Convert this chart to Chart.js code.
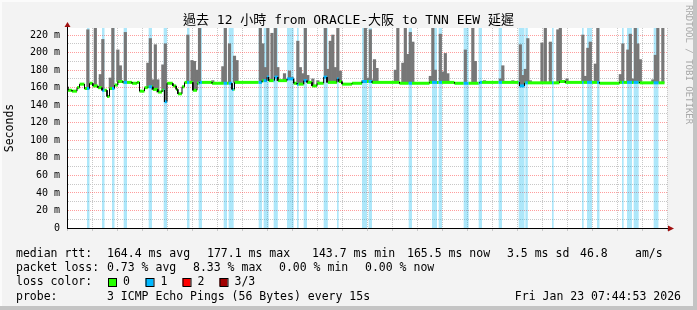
<!DOCTYPE html>
<html>
<head>
<meta charset="utf-8">
<script src="https://cdn.jsdelivr.net/npm/chart.js"></script>
<style>
  html, body { margin: 0; padding: 0; background: #f3f3f3; }
  #wrap { width: 697px; height: 310px; }
</style>
</head>
<body>
<div id="wrap"><canvas id="pingChart" width="697" height="310"></canvas></div>
<script>
// -------------------------------
// 1) DATA (read off the smokeping graph)
// -------------------------------

// median rtt, stepped: value holds from its time until the next one (ms)
const medianTimes = ["19:46","19:47","19:52","19:58","20:01","20:07","20:13","20:17","20:23","20:28",
  "20:34","20:37","20:43","20:47","20:53","21:04","21:10","21:13","21:19","21:23",
  "21:29","21:35","21:40","21:43","21:46","21:53","21:57","21:59","22:04","22:07",
  "22:17","22:22","22:25","22:40","23:04","23:07","23:40","23:46","23:48","23:55",
  "23:59","00:10","00:18","00:22","00:30","00:34","00:40","00:46","00:54","00:58",
  "01:10","01:12","01:16","01:28","01:40","01:52","02:25","03:01","03:31","04:01",
  "04:49","04:55","05:37","05:44","06:25","06:49","07:13","07:43"];
const medianMs = [161,157,156,160,164,159,165,162,160,157,
  150,159,163,167,166,165,166,156,160,161,
  158,155,157,144,165,162,158,153,161,166,
  157,165,166,165,158,166,168,172,168,172,
  168,170,165,164,168,166,162,165,172,166,
  170,167,164,165,167,166,165,166,165,166,
  162,165.5,167,166,165,166,165.5,165.5];

// packet loss 1/3 periods
const lossStart = ["20:10","20:28","20:40","20:54","21:24","21:42","22:10","22:24","22:54","23:00",
  "23:36","23:42","23:54","00:10","00:22","00:30","00:54","01:10","01:40","01:48",
  "02:36","03:04","03:12","03:42","04:00","04:24","04:48","04:56","05:28","06:04",
  "06:10","06:22","06:52","06:58","07:06","07:30"];
const lossEnd = ["20:13","20:31","20:43","20:58","21:28","21:46","22:13","22:28","22:58","23:06",
  "23:40","23:48","23:59","00:18","00:24","00:34","00:59","01:12","01:46","01:52",
  "02:40","03:10","03:16","03:48","04:04","04:28","04:55","04:59","05:30","06:06",
  "06:16","06:25","06:54","07:04","07:12","07:36"];

// smoke: highest ping of each noisy step (ms); values above 228 are clipped off the top
const smokeTimes = ["20:11","20:20","20:26","20:29","20:38","20:41","20:47","20:50","20:56","21:23",
  "21:26","21:29","21:32","21:35","21:41","21:44","22:11","22:16","22:19","22:22",
  "22:25","22:41","22:53","22:56","23:01","23:07","23:10","23:38","23:41","23:44",
  "23:47","23:52","23:56","23:59","00:07","00:13","00:16","00:23","00:26","00:29",
  "00:32","00:35","00:41","00:47","00:56","00:59","01:02","01:05","01:08","01:11",
  "01:14","01:41","01:44","01:47","01:50","01:53","01:55","01:58","02:20","02:23",
  "02:29","02:32","02:35","02:38","02:41","03:02","03:05","03:08","03:14","03:17",
  "03:20","03:23","03:31","03:44","03:53","03:56","04:07","04:26","04:29","04:41",
  "04:50","04:53","04:56","04:59","05:02","05:16","05:20","05:26","05:35","05:38",
  "05:46","06:05","06:08","06:11","06:14","06:20","06:23","06:50","06:53","06:59",
  "07:02","07:05","07:08","07:11","07:14","07:29","07:32","07:35","07:41"];
const smokeTopMs = [226,245,175,215,171,245,203,185,223,188,
  216,169,209,169,186,210,220,191,190,180,
  245,168,184,245,210,196,191,245,210,183,
  245,222,245,183,176,179,172,213,183,176,
  245,174,170,168,245,181,213,220,183,245,
  179,168,245,171,226,169,192,182,180,245,
  188,245,198,223,212,173,245,180,221,178,
  199,176,166,203,245,190,168,170,185,168,
  209,174,181,216,168,211,245,212,226,245,
  170,220,173,205,212,187,245,175,210,203,
  221,170,245,210,192,169,197,245,245];

const xTickLabels = ["20:00","22:00","00:00","02:00","04:00","06:00"];

const titleText = "過去 12 小時 from ORACLE-大阪 to TNN EEW 延遲";
const rttStats = ["164.4 ms avg","177.1 ms max","143.7 ms min","165.5 ms now","3.5 ms sd","46.8","am/s"];
const lossStats = ["0.73 % avg","8.33 % max","0.00 % min","0.00 % now"];
const lossLegend = ["0","1","2","3/3"];
const probeText = "3 ICMP Echo Pings (56 Bytes) every 15s";
const stampText = "Fri Jan 23 07:44:53 2026";

// -------------------------------
// 2) HELPERS
// -------------------------------

const LOSS_COLORS = ["#26ff00", "#00b8ff", "#ff0000", "#a10000"];
const GRID_MAJOR = "rgba(255,60,60,0.5)";
const GRID_MINOR = "#c8c8c8";
const Y_MAX = 228;

// clock string -> hours since the previous midnight (after-midnight times get +24)
const toHour = s => {
  const [h, m] = s.split(":").map(Number);
  const v = h + m / 60;
  return v < 12 ? v + 24 : v;
};
const clock = v => {
  const m = Math.round(v * 60) % 1440;
  return String(Math.floor(m / 60)).padStart(2, "0") + ":" + String(m % 60).padStart(2, "0");
};

const X_MIN = toHour("19:46");
const X_MAX = X_MIN + 12;

const medH = medianTimes.map(toHour);
function medianAt(h) {
  let v = medianMs[0];
  for (let i = 0; i < medH.length; i++) {
    if (medH[i] <= h) v = medianMs[i];
    else break;
  }
  return v;
}
const bands = lossStart.map((s, i) => [toHour(s), toHour(lossEnd[i])]);
const inLoss = h => bands.some(([a, b]) => h >= a && h < b);

// loss background: one filled rectangle per loss period
const bandPoints = [];
bands.forEach(([a, b]) => {
  bandPoints.push({ x: a, y: 0 }, { x: a, y: Y_MAX }, { x: b, y: Y_MAX }, { x: b, y: 0 });
});

// median: horizontal pieces only, cut at loss boundaries so each piece gets one colour
const cuts = [...new Set([...medH, ...bands.flat()])]
  .filter(h => h >= medH[0] && h <= medH[medH.length - 1])
  .sort((a, b) => a - b);
const medianPoints = [];
for (let i = 0; i < cuts.length - 1; i++) {
  const v = medianAt(cuts[i]);
  medianPoints.push({ x: cuts[i], y: v }, { x: cuts[i + 1], y: v }, { x: cuts[i + 1], y: null });
}

// thin black risers where the median changes level
const stepPoints = [];
for (let i = 1; i < medH.length - 1; i++) {
  stepPoints.push({ x: medH[i], y: medianMs[i - 1] }, { x: medH[i], y: medianMs[i] }, { x: medH[i], y: null });
}

// smoke bars from the median up to the highest ping
const smokeBars = smokeTimes.map((t, i) => {
  const h = toHour(t);
  return { x: h, y: [medianAt(h), smokeTopMs[i]] };
});

// -------------------------------
// 3) FRAME / TEXT PLUGIN (rrdtool look)
// -------------------------------

const rrdFrame = {
  id: "rrdFrame",
  beforeDraw(chart) {
    const { ctx, width, height, chartArea: a } = chart;
    ctx.save();
    ctx.fillStyle = "#f3f3f3";
    ctx.fillRect(0, 0, width, height);
    ctx.fillStyle = "#fbfbfb";
    ctx.fillRect(0, 0, width, 2);
    ctx.fillRect(0, 0, 2, height);
    ctx.fillStyle = "#c4c4c4";
    ctx.fillRect(width - 4, 0, 4, height);
    ctx.fillRect(0, height - 4, width, 4);
    ctx.fillStyle = "#ffffff";
    ctx.fillRect(a.left, a.top, a.right - a.left, a.bottom - a.top);
    ctx.restore();
  },
  afterDraw(chart) {
    const { ctx, width, chartArea: a } = chart;
    ctx.save();

    // axis arrows
    ctx.strokeStyle = "#000";
    ctx.lineWidth = 1;
    ctx.beginPath();
    ctx.moveTo(a.left + 0.5, a.top);
    ctx.lineTo(a.left + 0.5, a.top - 3);
    ctx.moveTo(a.right, a.bottom + 0.5);
    ctx.lineTo(a.right + 2, a.bottom + 0.5);
    ctx.stroke();
    ctx.fillStyle = "#a01010";
    ctx.beginPath();
    ctx.moveTo(a.left - 2.5, a.top - 1);
    ctx.lineTo(a.left + 3.5, a.top - 1);
    ctx.lineTo(a.left + 0.5, a.top - 6);
    ctx.closePath();
    ctx.fill();
    ctx.beginPath();
    ctx.moveTo(a.right + 1, a.bottom - 2.5);
    ctx.lineTo(a.right + 1, a.bottom + 3.5);
    ctx.lineTo(a.right + 7, a.bottom + 0.5);
    ctx.closePath();
    ctx.fill();

    // title
    ctx.fillStyle = "#000";
    ctx.font = '13px "DejaVu Sans Mono", "Noto Sans CJK TC", monospace';
    ctx.textAlign = "center";
    ctx.textBaseline = "middle";
    ctx.fillText(titleText, width / 2, 21);

    // watermark
    ctx.save();
    ctx.translate(688.5, 5);
    ctx.rotate(Math.PI / 2);
    ctx.font = '9px "DejaVu Sans Mono", monospace';
    ctx.fillStyle = "#a8a8a8";
    ctx.textAlign = "left";
    ctx.fillText("RRDTOOL / TOBI OETIKER", 0, 0);
    ctx.restore();

    // legend block
    ctx.font = '11.5px "DejaVu Sans Mono", monospace';
    ctx.fillStyle = "#000";
    ctx.textAlign = "left";
    ctx.textBaseline = "middle";
    const rowY = [254, 268, 282, 297];
    ctx.fillText("median rtt:", 16, rowY[0]);
    [107, 207, 312, 407, 507, 580, 635].forEach((x, i) => ctx.fillText(rttStats[i], x, rowY[0]));
    ctx.fillText("packet loss:", 16, rowY[1]);
    [107, 193, 279, 365].forEach((x, i) => ctx.fillText(lossStats[i], x, rowY[1]));
    ctx.fillText("loss color:", 16, rowY[2]);
    [108, 145.5, 182.5, 219.5].forEach((x, i) => {
      ctx.fillStyle = LOSS_COLORS[i];
      ctx.fillRect(x, rowY[2] - 4, 8, 8);
      ctx.strokeStyle = "#000";
      ctx.strokeRect(x + 0.5, rowY[2] - 3.5, 8, 8);
      ctx.fillStyle = "#000";
      ctx.fillText(lossLegend[i], x + 15, rowY[2]);
    });
    ctx.fillText("probe:", 16, rowY[3]);
    ctx.fillText(probeText, 107, rowY[3]);
    ctx.textAlign = "right";
    ctx.fillText(stampText, 681, rowY[3]);
    ctx.restore();
  }
};

// -------------------------------
// 4) CHART
// -------------------------------

Chart.defaults.font.family = '"DejaVu Sans Mono", monospace';

new Chart(document.getElementById("pingChart"), {
  type: "line",
  data: {
    datasets: [
      {
        label: "steps",
        data: stepPoints,
        borderColor: "#000",
        borderWidth: 1,
        pointRadius: 0,
        spanGaps: false,
        order: 1
      },
      {
        label: "median rtt",
        data: medianPoints,
        borderColor: LOSS_COLORS[0],
        borderWidth: 3,
        borderCapStyle: "butt",
        pointRadius: 0,
        spanGaps: false,
        segment: {
          borderColor: c => inLoss((c.p0.parsed.x + c.p1.parsed.x) / 2) ? LOSS_COLORS[1] : LOSS_COLORS[0]
        },
        order: 2
      },
      {
        type: "bar",
        label: "smoke",
        data: smokeBars,
        backgroundColor: "#777777",
        barThickness: 2.5,
        clip: 0,
        order: 3
      },
      {
        label: "loss",
        data: bandPoints,
        fill: "origin",
        backgroundColor: "rgba(0,180,240,0.32)",
        borderColor: "transparent",
        borderWidth: 0,
        pointRadius: 0,
        order: 4
      }
    ]
  },
  options: {
    responsive: false,
    animation: false,
    events: [],
    layout: { padding: { left: 0, right: 30, top: 28, bottom: 0 } },
    plugins: {
      legend: { display: false },
      tooltip: { enabled: false }
    },
    scales: {
      x: {
        type: "linear",
        min: X_MIN,
        max: X_MAX,
        offset: false,
        afterFit: s => { s.height = 82; },
        ticks: {
          stepSize: 0.5,
          includeBounds: false,
          autoSkip: false,
          maxRotation: 0,
          padding: 1,
          color: "#000",
          font: { size: 10 },
          callback: v => {
            const l = clock(v);
            return xTickLabels.includes(l) ? l : "";
          }
        },
        grid: {
          offset: false,
          color: c => (c.tick && Number.isInteger(c.tick.value)) ? GRID_MAJOR : GRID_MINOR,
          tickLength: 3
        },
        border: { color: "#000", dash: [1, 1] }
      },
      y: {
        type: "linear",
        min: 0,
        max: Y_MAX,
        afterFit: s => { s.width = 67; },
        ticks: {
          stepSize: 10,
          includeBounds: false,
          autoSkip: false,
          padding: 7,
          color: "#000",
          font: { size: 10 },
          callback: v => v % 20 ? "" : (v === 0 ? "0" : v + " m")
        },
        grid: {
          color: c => (c.tick && c.tick.value % 20 === 0) ? GRID_MAJOR : GRID_MINOR,
          drawTicks: false
        },
        border: { color: "#000", dash: [1, 1] },
        title: {
          display: true,
          text: "Seconds",
          color: "#000",
          font: { size: 11.5 },
          padding: { top: 3, bottom: 0 }
        }
      }
    }
  },
  plugins: [rrdFrame]
});
</script>
</body>
</html>
